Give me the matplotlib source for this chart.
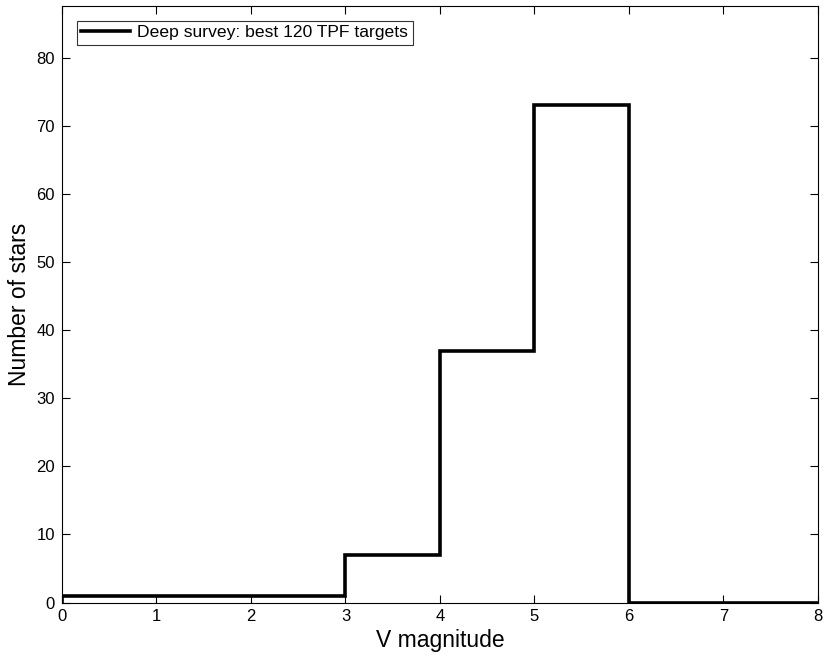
import numpy as np
import matplotlib.pyplot as plt

plt.rcParams['font.family'] = ['Liberation Sans', 'DejaVu Sans']

# histogram of V magnitudes
edges = [0, 1, 2, 3, 4, 5, 6, 7, 8]
counts = [1, 1, 1, 7, 37, 73, 0, 0]
label = 'Deep survey: best 120 TPF targets'

fig = plt.figure(figsize=(8.3, 6.58), dpi=100)
ax = fig.add_axes([0.0747, 0.0843, 0.9108, 0.9066])

ax.stairs(counts, edges, color='black', linewidth=2.6, label=label)

ax.set_xlim(0, 8)
ax.set_ylim(0, 87.6)
ax.set_xticks(range(0, 9))
ax.set_yticks(range(0, 81, 10))
ax.tick_params(direction='in', length=6, width=0.8, top=True, right=True, labelsize=12, pad=5)
for s in ax.spines.values():
    s.set_linewidth(0.8)

ax.set_xlabel('V magnitude', fontsize=16.5, labelpad=3)
ax.set_ylabel('Number of stars', fontsize=16.5, labelpad=4)

leg = ax.legend(loc='upper left', fontsize=12.6, frameon=True, fancybox=False,
                edgecolor='black', handlelength=2.8, borderaxespad=0.85,
                borderpad=0.25, handletextpad=0.4)
leg.get_frame().set_linewidth(0.8)

fig.savefig('out.png', dpi=100)
